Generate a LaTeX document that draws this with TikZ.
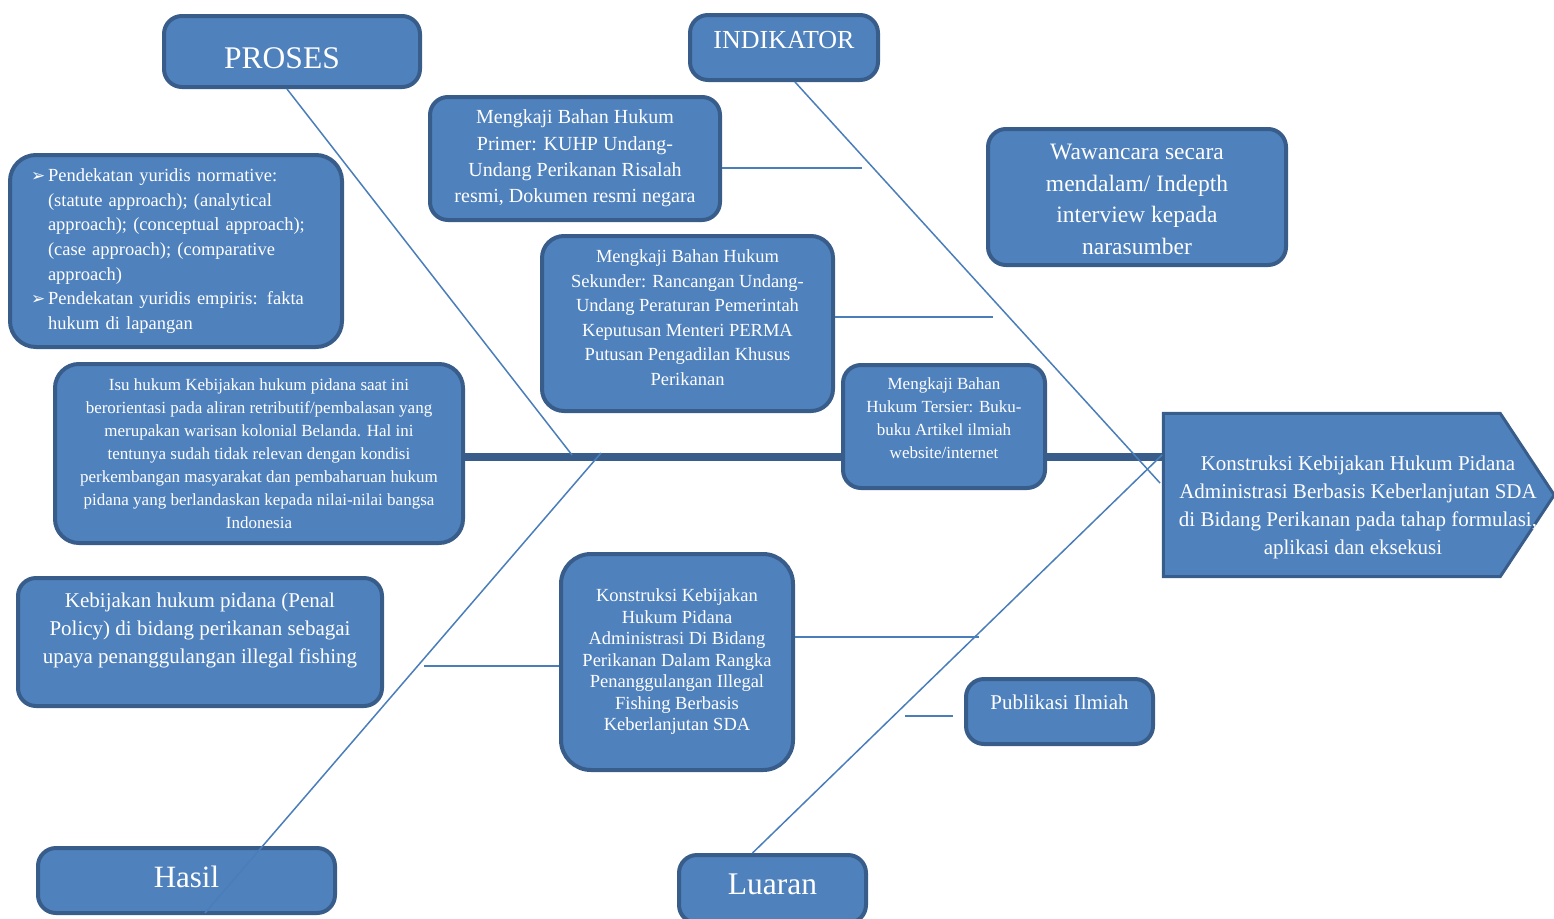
\documentclass[tikz,border=0pt]{standalone}
\usepackage{fontspec}
\setmainfont{Liberation Serif}
\newfontfamily\panahfont{DejaVu Sans}
\usepackage{tikz}
\usetikzlibrary{calc, backgrounds}
\usepackage{xcolor}
\definecolor{isiBiru}{HTML}{4F81BD}
\definecolor{tepiBiru}{HTML}{385D8A}
\definecolor{garisBiru}{HTML}{4A7EBB}
\newcommand{\turun}[1]{\rule{0pt}{#1}}
\newcommand{\naik}[1]{\rule[-#1]{0pt}{0pt}}
\newcommand{\butir}{\makebox[17pt][l]{\panahfont\fontsize{17}{17}\selectfont ➢}}
\tikzset{
  kotak/.style={rectangle, rounded corners=18pt, draw=tepiBiru, line width=4pt,
    fill=isiBiru, text=white, align=center, inner sep=0pt},
  sasaran/.style={rectangle, text=white, align=center, inner sep=0pt},
  panah/.style={draw=tepiBiru, line width=3pt, fill=isiBiru, line join=miter},
  ranting/.style={garisBiru, line width=1.5pt},
  tulang/.style={tepiBiru, line width=8pt},
}

\begin{document}
\begin{tikzpicture}[x=1pt, y=-1pt]
    \useasboundingbox (0,0) rectangle (1554,918);
    % Kotak judul
    \node[kotak, font=\fontsize{31.5}{36}\selectfont, minimum width=256, minimum height=71]
        (proses) at (292,51.5) {\turun{34pt}PROSES\hspace*{20pt}};
    \node[kotak, font=\fontsize{26}{30}\selectfont, minimum width=188, minimum height=65]
        (indikator) at (784,47.5) {INDIKATOR\naik{15pt}};
    \node[kotak, font=\fontsize{31}{36}\selectfont, minimum width=297, minimum height=65]
        (hasil) at (186.5,880.5) {Hasil\naik{7pt}};
    \node[kotak, font=\fontsize{31.5}{36}\selectfont, minimum width=187, minimum height=68]
        (luaran) at (772.5,889) {Luaran\naik{10pt}};
    % Kotak isi
    \node[kotak, font=\fontsize{20}{26.3}\selectfont, minimum width=290, minimum height=123]
        (primer) at (575,158.5) {Mengkaji Bahan Hukum\\Primer: KUHP Undang-\\Undang Perikanan Risalah\\resmi, Dokumen resmi negara};
    \node[kotak, font=\fontsize{23.5}{31.7}\selectfont, minimum width=298, minimum height=136]
        (wawancara) at (1137,197) {\turun{20pt}Wawancara secara\\mendalam/ Indepth\\interview kepada\\narasumber};
    \node[kotak, rounded corners=26pt, font=\fontsize{18.5}{24.7}\selectfont, minimum width=332,
        minimum height=192, align=left, text width=290]
        (pendekatan) at (176,251) {\butir Pendekatan yuridis normative:\\
        \hspace*{17pt}(statute approach); (analytical\\
        \hspace*{17pt}approach); (conceptual approach);\\
        \hspace*{17pt}(case approach); (comparative\\
        \hspace*{17pt}approach)\\
        \butir Pendekatan yuridis empiris: fakta\\
        \hspace*{17pt}hukum di lapangan};
    \node[kotak, rounded corners=22pt, font=\fontsize{18.5}{24.6}\selectfont, minimum width=291, minimum height=175]
        (sekunder) at (687.5,323.5) {Mengkaji Bahan Hukum\\Sekunder: Rancangan Undang-\\Undang Peraturan Pemerintah\\Keputusan Menteri PERMA\\Putusan Pengadilan Khusus\\Perikanan\naik{12pt}};
    \node[kotak, rounded corners=24pt, font=\fontsize{17}{23}\selectfont, minimum width=408, minimum height=179]
        (isu) at (259,453.5) {Isu hukum Kebijakan hukum pidana saat ini\\berorientasi pada aliran retributif/pembalasan yang\\merupakan warisan kolonial Belanda. Hal ini\\tentunya sudah tidak relevan dengan kondisi\\perkembangan masyarakat dan pembaharuan hukum\\pidana yang berlandaskan kepada nilai-nilai bangsa\\Indonesia};
    \node[kotak, font=\fontsize{17}{23}\selectfont, minimum width=202, minimum height=123]
        (tersier) at (944,426.5) {\turun{14pt}Mengkaji Bahan\\Hukum Tersier: Buku-\\buku Artikel ilmiah\\website/internet\naik{19pt}};
    \node[sasaran, font=\fontsize{21}{28}\selectfont, minimum width=392, minimum height=166]
        (sasaran) at (1358,495) {\turun{40pt}Konstruksi Kebijakan Hukum Pidana\\Administrasi Berbasis Keberlanjutan SDA\\di Bidang Perikanan pada tahap formulasi,\\aplikasi dan eksekusi\hspace*{10pt}};
    \node[kotak, font=\fontsize{21}{28}\selectfont, minimum width=364, minimum height=128]
        (kebijakan) at (200,642) {Kebijakan hukum pidana (Penal\\Policy) di bidang perikanan sebagai\\upaya penanggulangan illegal fishing\naik{27pt}};
    \node[kotak, rounded corners=30pt, font=\fontsize{18.5}{21.5}\selectfont, minimum width=232, minimum height=216]
        (konstruksi) at (677,662) {Konstruksi Kebijakan\\Hukum Pidana\\Administrasi Di Bidang\\Perikanan Dalam Rangka\\Penanggulangan Illegal\\Fishing Berbasis\\Keberlanjutan SDA};
    \node[kotak, font=\fontsize{21}{26}\selectfont, minimum width=187, minimum height=65]
        (publikasi) at (1059.5,711.5) {Publikasi Ilmiah\naik{19pt}};
    % Titik pada tulang
    \coordinate (tulangy) at (0,457);
    \coordinate (jproses) at (572,455);
    \coordinate (jhasil) at (601,453);
    \coordinate (jindikator) at (1160,483);
    \coordinate (jluaran) at (1162,455);
    \coordinate (ujunghasil) at (205,913);
    \coordinate (cprimer) at (862,168);
    \coordinate (csekunder) at (993,317);
    \coordinate (ckebijakan) at (0,666);
    \coordinate (ckonstruksi) at (979,637);
    \coordinate (cpublikasi) at (905,716);
    % Tulang utama dan kepala panah
    \begin{scope}[on background layer]
        \draw[tulang] (isu.east |- tulangy) -- (sasaran.west |- tulangy);
        \draw[panah] ($(sasaran.north west)+(1.5,1.5)$) -- ($(sasaran.north east)+(-54,1.5)$)
            -- (sasaran.east) -- ($(sasaran.south east)+(-54,-1.5)$)
            -- ($(sasaran.south west)+(1.5,-1.5)$) -- cycle;
    \end{scope}
    % Garis cabang
    \draw[ranting] ($(proses.south)+(-5,0)$) -- (jproses);
    \draw[ranting] ($(indikator.south)+(11,0)$) -- (jindikator);
    \draw[ranting] (jhasil) -- (ujunghasil);
    \draw[ranting] ($(luaran.north)+(-20,0)$) -- (jluaran);
    \draw[ranting] (primer.east |- cprimer) -- (cprimer);
    \draw[ranting] (sekunder.east |- csekunder) -- (csekunder);
    \draw[ranting, shorten <=40pt] (kebijakan.east |- ckebijakan) -- (konstruksi.west |- ckebijakan);
    \draw[ranting] (konstruksi.east |- ckonstruksi) -- (ckonstruksi);
    \draw[ranting, shorten >=11pt] (cpublikasi) -- (publikasi.west |- cpublikasi);
\end{tikzpicture}
\end{document}
